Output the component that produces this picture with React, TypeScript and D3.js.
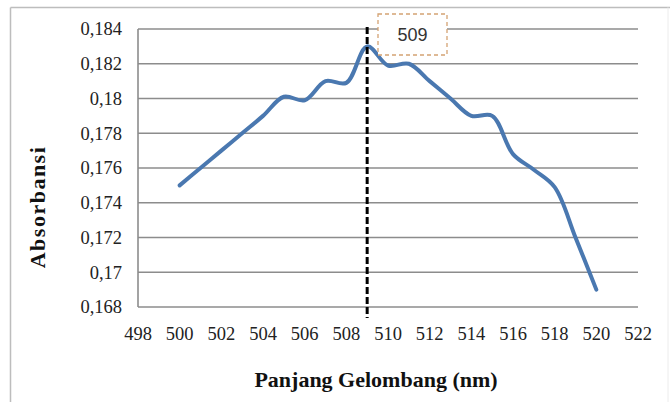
import React from "react";
import * as d3 from "d3";

const wavelengths = [500, 501, 502, 503, 504, 505, 506, 507, 508, 509, 510, 511, 512, 513, 514, 515, 516, 517, 518, 519, 520];
const absorbance = [0.175, 0.176, 0.177, 0.178, 0.179, 0.1801, 0.1799, 0.181, 0.1809, 0.183, 0.1819, 0.182, 0.181, 0.180, 0.179, 0.179, 0.1768, 0.1759, 0.1749, 0.172, 0.169];
const xTicks = [498, 500, 502, 504, 506, 508, 510, 512, 514, 516, 518, 520, 522];
const yTicks = [0.168, 0.17, 0.172, 0.174, 0.176, 0.178, 0.18, 0.182, 0.184];
const peakX = 509;
const peakLabel = "509";
const xTitle = "Panjang Gelombang (nm)";
const yTitle = "Absorbansi";

const W = 670, H = 402;
const L = 138, R = 638, T = 29, B = 307;

const fmt = (v: number) => {
  const s = String(+v.toFixed(3));
  return s.replace(".", ",");
};

export default function App() {
  const x = d3.scaleLinear().domain([498, 522]).range([L, R]);
  const y = d3.scaleLinear().domain([0.168, 0.184]).range([B, T]);
  const line = d3
    .line<number>()
    .x((_, i) => x(wavelengths[i]))
    .y((d) => y(d))
    .curve(d3.curveCatmullRom.alpha(0.5));
  const serif = "'Liberation Serif', 'Times New Roman', serif";
  return (
    <svg width={W} height={H} style={{ position: "absolute", left: 0, top: 0, background: "#fff" }}>
      <rect x={0} y={0} width={W} height={H} fill="#fff" />
      {/* outer frame */}
      <line x1={10.5} y1={7.5} x2={10.5} y2={H} stroke="#bdbdbd" strokeWidth={1.5} />
      <line x1={10.5} y1={7.5} x2={W} y2={7.5} stroke="#bdbdbd" strokeWidth={1.5} />
      <line x1={668} y1={7.5} x2={668} y2={H} stroke="#ececec" strokeWidth={1} />
      {/* gridlines */}
      {yTicks.map((t) => (
        <line key={t} x1={L} x2={R} y1={y(t)} y2={y(t)} stroke="#8c8c8c" strokeWidth={1.6} />
      ))}
      <line x1={L} x2={L} y1={T} y2={B} stroke="#8c8c8c" strokeWidth={1.6} />
      {/* y tick labels */}
      {yTicks.map((t) => (
        <text key={t} x={122} y={y(t)} dy="0.35em" textAnchor="end" fontFamily={serif} fontSize={18.5} fill="#222">
          {fmt(t)}
        </text>
      ))}
      {/* x tick labels */}
      {xTicks.map((t) => (
        <text key={t} x={x(t)} y={340} textAnchor="middle" fontFamily={serif} fontSize={18.5} fill="#222">
          {t}
        </text>
      ))}
      {/* data line */}
      <path d={line(absorbance) || ""} fill="none" stroke="#4a78b0" strokeWidth={4} strokeLinejoin="round" strokeLinecap="round" />
      {/* peak marker */}
      <line x1={x(peakX)} x2={x(peakX)} y1={27} y2={318} stroke="#000" strokeWidth={3} strokeDasharray="7,3" />
      <rect x={378} y={14} width={69} height={41} fill="#fff" stroke="#d4a373" strokeWidth={1.3} strokeDasharray="4,3" />
      <text x={412.5} y={41} textAnchor="middle" fontFamily="'Liberation Sans', Arial, sans-serif" fontSize={18} fill="#333">
        {peakLabel}
      </text>
      {/* axis titles */}
      <text x={376} y={387} textAnchor="middle" fontFamily={serif} fontWeight="bold" fontSize={22} fill="#111">
        {xTitle}
      </text>
      <text
        transform={`translate(45,207) rotate(-90)`}
        textAnchor="middle"
        fontFamily={serif}
        fontWeight="bold"
        fontSize={22}
        letterSpacing={1.5}
        fill="#111"
      >
        {yTitle}
      </text>
    </svg>
  );
}
